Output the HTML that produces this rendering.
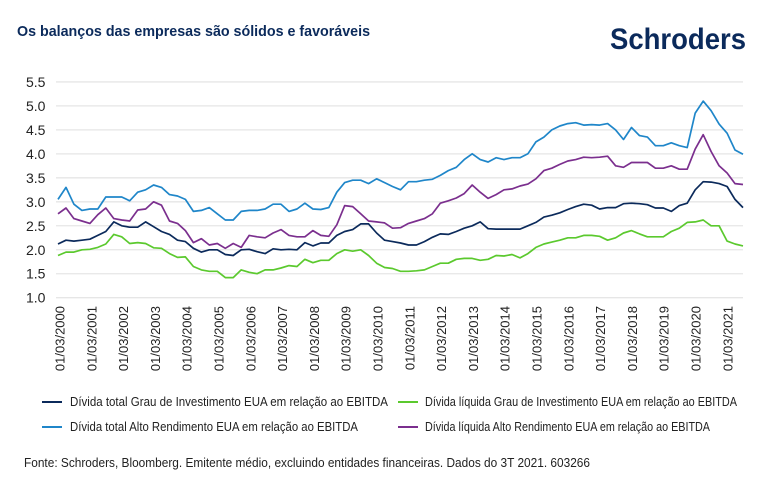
<!DOCTYPE html>
<html><head><meta charset="utf-8"><style>
body{margin:0;background:#fff;}
svg{display:block;font-family:"Liberation Sans",sans-serif;}
</style></head><body>
<svg id="s" width="770" height="491" viewBox="0 0 770 491" xmlns="http://www.w3.org/2000/svg">
<rect width="770" height="491" fill="#fff"/>
<text x="17" y="36" font-size="15" font-weight="bold" fill="#0b2a5b" textLength="353" lengthAdjust="spacingAndGlyphs">Os balanços das empresas são sólidos e favoráveis</text>
<text x="610" y="49" font-size="30" font-weight="bold" fill="#0b2a5b" textLength="136" lengthAdjust="spacingAndGlyphs">Schroders</text>
<g id="grid"></g>
<g id="yl" font-size="14" fill="#222"></g>
<g id="xl" font-size="13" fill="#222"></g>
<g id="series" fill="none" stroke-width="1.7" stroke-linejoin="round"></g>
<g font-size="12.5" fill="#222">
<line x1="42" y1="402" x2="62" y2="402" stroke="#0b2a5b" stroke-width="2"/>
<text x="70" y="406" textLength="318" lengthAdjust="spacingAndGlyphs">Dívida total Grau de Investimento EUA em relação ao EBITDA</text>
<line x1="398" y1="402" x2="418" y2="402" stroke="#5bc92e" stroke-width="2"/>
<text x="425" y="406" textLength="312" lengthAdjust="spacingAndGlyphs">Dívida líquida Grau de Investimento EUA em relação ao EBITDA</text>
<line x1="42" y1="427" x2="62" y2="427" stroke="#1f86c9" stroke-width="2"/>
<text x="70" y="431" textLength="288" lengthAdjust="spacingAndGlyphs">Dívida total Alto Rendimento EUA em relação ao EBITDA</text>
<line x1="398" y1="427" x2="418" y2="427" stroke="#7b2f8e" stroke-width="2"/>
<text x="425" y="431" textLength="285" lengthAdjust="spacingAndGlyphs">Dívida líquida Alto Rendimento EUA em relação ao EBITDA</text>
<text x="24" y="467" textLength="566" lengthAdjust="spacingAndGlyphs">Fonte: Schroders, Bloomberg. Emitente médio, excluindo entidades financeiras. Dados do 3T 2021. 603266</text>
</g>
</svg>
<script>
var NS="http://www.w3.org/2000/svg";
function Y(v){return 297.7-(v-1)*47.95;}
function el(p,t,a,txt){var e=document.createElementNS(NS,t);for(var k in a)e.setAttribute(k,a[k]);if(txt)e.textContent=txt;document.getElementById(p).appendChild(e);return e;}
for(var i=0;i<10;i++){var v=1+i*0.5;var y=Y(v);
el("grid","line",{x1:56,x2:743,y1:y,y2:y,stroke:"#e6e6e6","stroke-width":1.3});
el("yl","text",{x:26,y:y+5},v.toFixed(1));}
for(var k=0;k<=21;k++){var x=60+31.8*k;
el("xl","text",{transform:"translate("+(x+4.5)+",306) rotate(-90)","text-anchor":"end"},"01/03/"+(2000+k));}
var hy=[3.05,3.3,2.95,2.82,2.85,2.85,3.1,3.1,3.1,3.02,3.2,3.25,3.35,3.3,3.15,3.12,3.05,2.8,2.82,2.88,2.75,2.62,2.62,2.8,2.82,2.82,2.85,2.95,2.95,2.8,2.85,2.97,2.85,2.84,2.88,3.2,3.4,3.45,3.45,3.38,3.48,3.4,3.32,3.25,3.42,3.42,3.45,3.47,3.55,3.65,3.72,3.88,4.0,3.88,3.83,3.92,3.88,3.92,3.92,4.0,4.25,4.35,4.5,4.58,4.63,4.65,4.6,4.61,4.6,4.63,4.5,4.3,4.55,4.38,4.35,4.17,4.17,4.23,4.17,4.13,4.85,5.1,4.9,4.62,4.43,4.08,3.99];
var hyn=[2.75,2.87,2.65,2.6,2.55,2.73,2.87,2.65,2.62,2.6,2.83,2.85,3.0,2.93,2.6,2.55,2.4,2.15,2.23,2.1,2.13,2.03,2.13,2.05,2.3,2.27,2.25,2.35,2.42,2.3,2.27,2.27,2.4,2.3,2.28,2.52,2.92,2.9,2.75,2.6,2.58,2.56,2.45,2.46,2.55,2.6,2.65,2.75,2.97,3.02,3.08,3.17,3.35,3.2,3.07,3.15,3.25,3.27,3.33,3.37,3.48,3.65,3.7,3.78,3.85,3.88,3.93,3.92,3.93,3.95,3.75,3.72,3.82,3.82,3.82,3.7,3.7,3.75,3.68,3.68,4.1,4.4,4.05,3.75,3.6,3.38,3.36];
var ig=[2.12,2.2,2.18,2.2,2.22,2.3,2.38,2.58,2.5,2.47,2.47,2.58,2.48,2.38,2.32,2.2,2.17,2.03,1.95,2.0,2.0,1.9,1.88,2.0,2.01,1.96,1.92,2.02,2.0,2.01,2.0,2.15,2.08,2.14,2.14,2.3,2.38,2.42,2.54,2.54,2.35,2.2,2.17,2.14,2.1,2.1,2.17,2.26,2.33,2.32,2.38,2.45,2.5,2.58,2.44,2.43,2.43,2.43,2.43,2.5,2.57,2.68,2.72,2.77,2.84,2.9,2.95,2.93,2.85,2.88,2.88,2.96,2.97,2.96,2.94,2.87,2.87,2.8,2.92,2.97,3.25,3.42,3.41,3.38,3.32,3.05,2.88];
var ign=[1.88,1.95,1.95,2.0,2.01,2.05,2.12,2.32,2.27,2.13,2.15,2.13,2.04,2.03,1.92,1.84,1.85,1.65,1.58,1.55,1.55,1.42,1.42,1.58,1.53,1.5,1.58,1.58,1.62,1.67,1.65,1.8,1.73,1.78,1.78,1.92,2.0,1.97,2.0,1.88,1.72,1.63,1.61,1.55,1.55,1.56,1.58,1.65,1.72,1.72,1.8,1.82,1.82,1.78,1.8,1.88,1.87,1.9,1.83,1.92,2.05,2.12,2.16,2.2,2.25,2.25,2.3,2.3,2.28,2.2,2.25,2.35,2.4,2.33,2.27,2.27,2.27,2.38,2.45,2.57,2.58,2.62,2.5,2.5,2.18,2.12,2.08];
function draw(d,c){var n=d.length,pts=[];var step=(743-58)/86;
for(var i=0;i<n;i++)pts.push((58+i*step).toFixed(1)+","+Y(d[i]).toFixed(1));
el("series","polyline",{points:pts.join(" "),stroke:c});}
draw(ign,"#5bc92e");draw(ig,"#0b2a5b");draw(hyn,"#7b2f8e");draw(hy,"#1f86c9");
</script>
</body></html>
